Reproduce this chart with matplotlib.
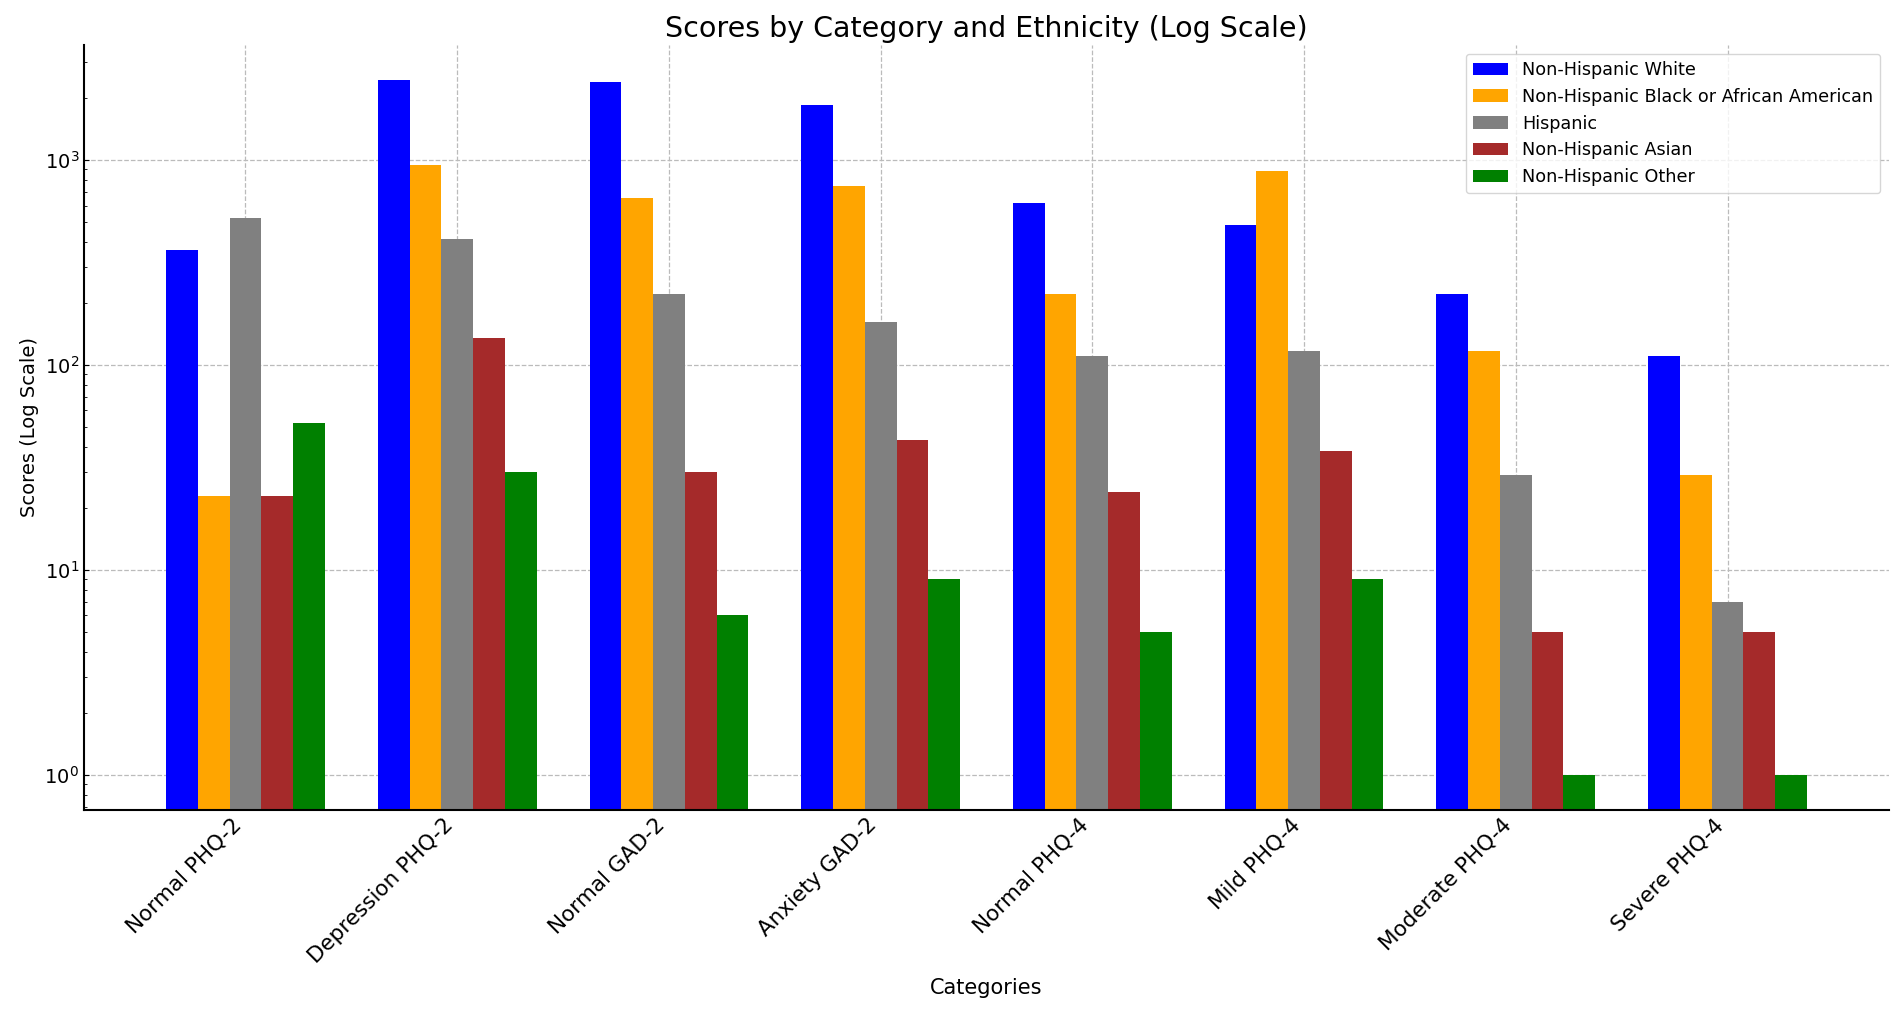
import numpy as np
import matplotlib
matplotlib.use("Agg")
from matplotlib import pyplot as plt


categories = ["Normal PHQ-2", "Depression PHQ-2", "Normal GAD-2", "Anxiety GAD-2",
              "Normal PHQ-4", "Mild PHQ-4", "Moderate PHQ-4", "Severe PHQ-4"]

white = [365, 2460, 2400, 1860, 615, 480, 223, 111]
black = [23, 950, 650, 750, 223, 885, 117, 29]
hispanic = [524, 414, 221, 163, 111, 117, 29, 7]
asian = [23, 135, 30, 43, 24, 38, 5, 5]
other = [52, 30, 6, 9, 5, 9, 1, 1]

groups = ["Non-Hispanic White", "Non-Hispanic Black or African American", "Hispanic",
          "Non-Hispanic Asian", "Non-Hispanic Other"]
colors = ["blue", "orange", "grey", "brown", "green"]

fig = plt.figure(figsize=(19.01, 10.09), dpi=100)
ax = fig.add_axes([84 / 1901, 1 - 810 / 1009, (1889 - 84) / 1901, (810 - 45) / 1009])

x = np.arange(len(categories))
width = 0.15
for i, (vals, name, col) in enumerate(zip([white, black, hispanic, asian, other], groups, colors)):
    ax.bar(x + (i - 2) * width, vals, width, label=name, color=col)

ax.set_yscale("log")
ax.set_ylim(0.675, 3640)
ax.set_xlim(-0.7625, 7.7625)

ax.set_xticks(x)
ax.set_xticklabels(categories, rotation=45, ha="right", fontsize=15.5)
ax.tick_params(axis="both", direction="in")
ax.tick_params(axis="y", labelsize=14)
ax.tick_params(axis="y", which="minor", direction="in")

ax.spines["top"].set_visible(False)
ax.spines["right"].set_visible(False)
ax.spines["left"].set_linewidth(1.5)
ax.spines["bottom"].set_linewidth(1.5)

ax.grid(True, linestyle="--", color="#bbbbbb", linewidth=0.9)
ax.set_axisbelow(True)

ax.set_title("Scores by Category and Ethnicity (Log Scale)", fontsize=20.5)
ax.set_xlabel("Categories", fontsize=15, labelpad=8)
ax.set_ylabel("Scores (Log Scale)", fontsize=14)
ax.legend(loc="upper right", fontsize=12.7)

fig.savefig("out.png", dpi=100)
